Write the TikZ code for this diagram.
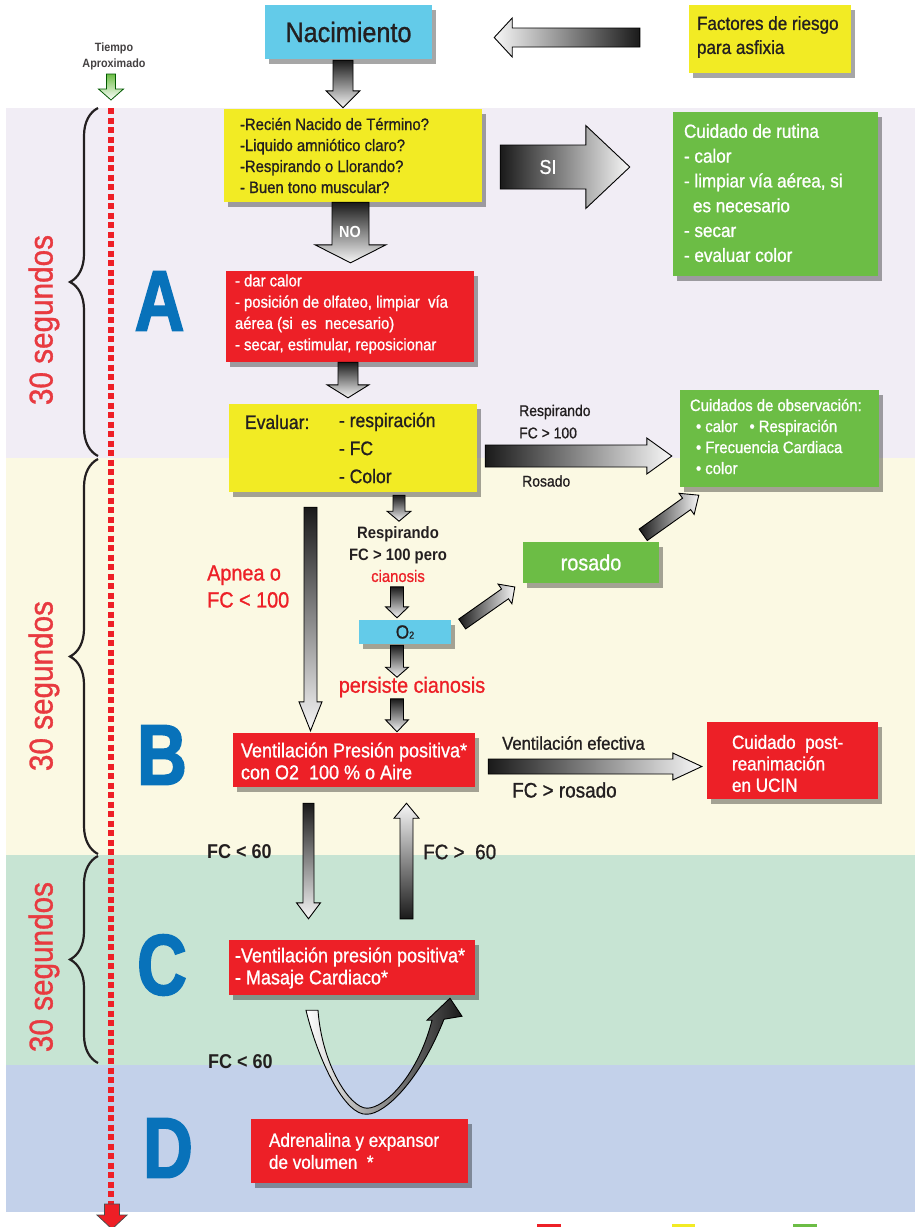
\documentclass[tikz,border=0pt]{standalone}
\usepackage{fontspec}
\setmainfont{Liberation Sans}[FakeStretch=0.9,UprightFeatures={FakeBold=1}]
\newfontfamily\heavyfont{Liberation Sans}[FakeStretch=0.8,BoldFeatures={FakeBold=2}]
\usetikzlibrary{calc,shadows,decorations.pathreplacing}
\definecolor{txt}{HTML}{231F20}
\definecolor{ylw}{HTML}{F2EB24}
\definecolor{rd}{HTML}{ED2027}
\definecolor{grn}{HTML}{6CBD45}
\definecolor{cyn}{HTML}{63CBE9}
\definecolor{blu}{HTML}{0872BA}
\definecolor{segred}{HTML}{E83A40}
\definecolor{bandA}{HTML}{F1EDF5}
\definecolor{bandB}{HTML}{FBF9E3}
\definecolor{bandC}{HTML}{C7E4D3}
\definecolor{bandD}{HTML}{C3D1EA}
\definecolor{dotred}{HTML}{EE1F26}
\definecolor{arrdk}{HTML}{1A1A1A}
\definecolor{arrlt}{HTML}{F7F7F7}
\newcommand{\myfs}[2]{\fontsize{#1}{#2}\selectfont}
\newcommand{\blkarrow}[6]{%
  \coordinate (bah) at ($(#3)!#6!(#2)$);
  \path[#1] ($(#2)!#4!90:(#3)$) -- ($(bah)!#4!90:(#3)$) -- ($(bah)!#5!90:(#3)$) -- (#3)
    -- ($(bah)!#5!-90:(#3)$) -- ($(bah)!#4!-90:(#3)$) -- ($(#2)!#4!-90:(#3)$) -- cycle;}
\tikzset{
  box/.style={rectangle, inner sep=0pt, drop shadow={shadow xshift=4pt,shadow yshift=-5pt,opacity=0.35,fill=black}},
  lbl/.style={inner sep=0pt, text=txt},
  wlbl/.style={inner sep=0pt, text=white},
  arrline/.style={draw=black, line width=0.9pt, line join=miter},
  arrdown/.style={arrline, top color=arrdk, bottom color=arrlt},
  arrup/.style={arrline, top color=arrlt, bottom color=arrdk},
  arrright/.style={arrline, left color=arrdk, right color=arrlt},
  arrleft/.style={arrline, left color=arrlt, right color=arrdk},
  bracestyle/.style={txt, line width=2.2pt, decorate, decoration={brace, amplitude=28pt, aspect=0.5}},
}
\begin{document}
\begin{tikzpicture}[x=1pt,y=-1pt]
\useasboundingbox (0,0) rectangle (915,1227);
\fill[white] (0,0) rectangle (915,1227);
% bands
\fill[bandA] (6,108) rectangle (915,458);
\fill[bandB] (6,458) rectangle (915,855);
\fill[bandC] (6,855) rectangle (915,1065);
\fill[bandD] (6,1065) rectangle (915,1212);
% legend squares (cut off)
\fill[rd] (537,1224) rectangle (561,1232);
\fill[ylw] (672,1224) rectangle (695,1232);
\fill[grn] (793,1224) rectangle (817,1232);

% time line
\node[lbl, align=center, text=txt!85, font=\bfseries\myfs{12}{16}] (tiempo) at (114,56) {Tiempo\\Aproximado};
\coordinate (ga0) at (111,74);
\coordinate (ga1) at (111,100);
\blkarrow{draw=green!35!black, line width=0.8pt, top color=grn, bottom color=white}{ga0}{ga1}{4.5pt}{12.5pt}{11pt}
\coordinate (tl0) at (111,108);
\coordinate (tl1) at (111,1204);
\draw[dotred, line width=5.5pt, dash pattern=on 6pt off 3.5pt] (tl0) -- (tl1);
\coordinate (rb0) at (112,1204);
\coordinate (rb1) at (112,1229);
\blkarrow{draw=black!70, line width=0.8pt, fill=dotred}{rb0}{rb1}{7.5pt}{15pt}{14pt}

% braces
\coordinate (brA0) at (98,456); \coordinate (brA1) at (98,108);
\coordinate (brB0) at (98,854); \coordinate (brB1) at (98,459);
\coordinate (brC0) at (98,1063); \coordinate (brC1) at (98,856);
\draw[bracestyle] (brA0) -- (brA1);
\draw[bracestyle] (brB0) -- (brB1);
\draw[bracestyle] (brC0) -- (brC1);
\node[lbl, text=segred, rotate=90, font=\myfs{33}{33}] (segA) at (44,320) {30 segundos};
\node[lbl, text=segred, rotate=90, font=\myfs{33}{33}] (segB) at (44,686) {30 segundos};
\node[lbl, text=segred, rotate=90, font=\myfs{33}{33}] (segC) at (44,967) {30 segundos};

% big letters
\node[lbl, text=blu, font=\heavyfont\bfseries\myfs{86}{86}] (lA) at (159.5,301) {A};
\node[lbl, text=blu, font=\heavyfont\bfseries\myfs{86}{86}] (lB) at (162,755) {B};
\node[lbl, text=blu, font=\heavyfont\bfseries\myfs{86}{86}] (lC) at (162,965) {C};
\node[lbl, text=blu, font=\heavyfont\bfseries\myfs{86}{86}] (lD) at (168,1148) {D};

% boxes
\node[box, fill=cyn, minimum width=167pt, minimum height=54pt, text=txt, font=\myfs{28}{30}] (nac) at (348.5,32) {Nacimiento};
\node[box, fill=ylw, minimum width=162pt, minimum height=68pt] (fac) at (770,39) {};
\node[lbl, anchor=west, align=left, font=\myfs{19}{24}] (facT) at ($(fac.west)+(8,-2)$) {Factores de riesgo\\para asfixia};
\node[box, fill=ylw, minimum width=258pt, minimum height=93pt] (q) at (353,155.5) {};
\node[lbl, anchor=west, align=left, font=\myfs{16.5}{21}] (qT) at ($(q.west)+(16,0)$) {-Recién Nacido de Término?\\-Liquido amniótico claro?\\-Respirando o Llorando?\\- Buen tono muscular?};
\node[box, fill=grn, minimum width=205pt, minimum height=164pt] (rut) at (775.5,194) {};
\node[wlbl, anchor=west, align=left, font=\myfs{19}{24.8}] (rutT) at ($(rut.west)+(11,-1)$) {Cuidado de rutina\\- calor\\- limpiar vía aérea, si\\\hspace*{9pt}es necesario\\- secar\\- evaluar color};
\node[box, fill=rd, minimum width=248pt, minimum height=91pt] (ra) at (350,316.5) {};
\node[wlbl, anchor=west, align=left, font=\myfs{16.5}{21.3}] (raT) at ($(ra.west)+(9,-2.5)$) {- dar calor\\- posición de olfateo, limpiar\ \ vía\\aérea (si\ \ es\ \ necesario)\\- secar, estimular, reposicionar};
\node[box, fill=ylw, minimum width=248pt, minimum height=88pt] (ev) at (353,448) {};
\node[lbl, anchor=west, font=\myfs{19.5}{28}] (evL) at ($(ev.west)+(16,-26)$) {Evaluar:};
\node[lbl, anchor=west, align=left, font=\myfs{19.5}{28}] (evR) at ($(ev.west)+(110,0)$) {- respiración\\- FC\\- Color};
\node[box, fill=grn, minimum width=199pt, minimum height=97pt] (obs) at (779.5,438.5) {};
\node[wlbl, anchor=west, align=left, font=\myfs{16.5}{21}] (obsT) at ($(obs.west)+(10,-2)$) {Cuidados de observación:\\\hspace*{6pt}• calor\hspace{12pt}• Respiración\\\hspace*{6pt}• Frecuencia Cardiaca\\\hspace*{6pt}• color};
\node[box, fill=grn, minimum width=136pt, minimum height=41pt, text=white, font=\myfs{22}{22}] (ros) at (591,562.5) {rosado};
\node[box, fill=cyn, minimum width=92pt, minimum height=24pt, text=txt, font=\myfs{19}{19}] (o2) at (405,632) {O{\myfs{10}{10}2}};
\node[box, fill=rd, minimum width=242pt, minimum height=54pt] (vent) at (354,760) {};
\node[wlbl, anchor=west, align=left, font=\myfs{20}{22}] (ventT) at ($(vent.west)+(8,1)$) {Ventilación Presión positiva*\\con O2\ \ 100 \% o Aire};
\node[box, fill=rd, minimum width=171pt, minimum height=77pt] (post) at (792.5,760.5) {};
\node[wlbl, anchor=west, align=left, font=\myfs{19}{21.5}] (postT) at ($(post.west)+(25,3)$) {Cuidado\ \ post-\\reanimación\\en UCIN};
\node[box, fill=rd, minimum width=246pt, minimum height=55pt] (cr) at (352,967.5) {};
\node[wlbl, anchor=west, align=left, font=\myfs{20}{22}] (crT) at ($(cr.west)+(6,0.5)$) {-Ventilación presión positiva*\\- Masaje Cardiaco*};
\node[box, fill=rd, minimum width=217pt, minimum height=64pt] (adr) at (359.5,1151) {};
\node[wlbl, anchor=west, align=left, font=\myfs{19}{22}] (adrT) at ($(adr.west)+(18,0)$) {Adrenalina y expansor\\de volumen\ \ *};

% block arrows
\coordinate (a1s) at ($(nac.south)+(-5.5,1)$); \coordinate (a1e) at ($(q.north)+(-10,-1)$);
\blkarrow{arrdown}{a1s}{a1e}{10pt}{17pt}{17pt}
\coordinate (a2s) at ($(fac.west)+(-49,-1.5)$); \coordinate (a2e) at ($(nac.east)+(62,5.5)$);
\blkarrow{arrleft}{a2s}{a2e}{9.5pt}{19.5pt}{18pt}
\coordinate (a3s) at ($(q.south)+(-2.5,0)$); \coordinate (a3e) at ($(ra.north)+(0.5,-8)$);
\blkarrow{arrdown}{a3s}{a3e}{18.5pt}{35.5pt}{18pt}
\coordinate (a4s) at ($(q.east)+(18,11.5)$); \coordinate (a4e) at ($(rut.west)+(-43,-27)$);
\blkarrow{arrright}{a4s}{a4e}{22pt}{41.5pt}{44pt}
\coordinate (a5s) at ($(ra.south)+(-2,0)$); \coordinate (a5e) at ($(ev.north)+(-5,-6)$);
\blkarrow{arrdown}{a5s}{a5e}{10pt}{21pt}{13pt}
\coordinate (a6s) at ($(ev.east)+(8,8)$); \coordinate (a6e) at ($(obs.west)+(-8,17.5)$);
\blkarrow{arrright}{a6s}{a6e}{11pt}{18pt}{25pt}
\coordinate (a7s) at ($(ev.south)+(46,3)$); \coordinate (a7e) at ($(ev.south)+(46,29)$);
\blkarrow{arrdown}{a7s}{a7e}{6pt}{12pt}{10pt}
\coordinate (a8s) at ($(ev.south)+(-42.5,15)$); \coordinate (a8e) at ($(vent.north)+(-43.5,-2)$);
\blkarrow{arrdown}{a8s}{a8e}{6.5pt}{11.5pt}{29pt}
\coordinate (a9s) at ($(o2.north)+(-8,-33)$); \coordinate (a9e) at ($(o2.north)+(-8,-2)$);
\blkarrow{arrdown}{a9s}{a9e}{6.5pt}{11.5pt}{11pt}
\coordinate (a10s) at ($(o2.south)+(-8,1)$); \coordinate (a10e) at ($(o2.south)+(-8,33)$);
\blkarrow{arrdown}{a10s}{a10e}{6.5pt}{11.5pt}{10pt}
\coordinate (a11s) at ($(vent.north)+(43,-34)$); \coordinate (a11e) at ($(vent.north)+(43,-1)$);
\blkarrow{arrdown}{a11s}{a11e}{6.5pt}{11.5pt}{12pt}
\coordinate (a12s) at ($(o2.east)+(11,-8)$); \coordinate (a12e) at ($(ros.west)+(-8,24.5)$);
\blkarrow{arrright}{a12s}{a12e}{6pt}{12pt}{12pt}
\coordinate (a13s) at ($(ros.north east)+(-16,-7)$); \coordinate (a13e) at ($(obs.south west)+(19,8)$);
\blkarrow{arrright}{a13s}{a13e}{7pt}{13pt}{15pt}
\coordinate (a14s) at ($(vent.east)+(13,6.5)$); \coordinate (a14e) at ($(post.west)+(-5,6)$);
\blkarrow{arrright}{a14s}{a14e}{7.5pt}{13.5pt}{29pt}
\coordinate (a15s) at ($(vent.south)+(-45.5,16)$); \coordinate (a15e) at ($(cr.north)+(-43.5,-21)$);
\blkarrow{arrdown}{a15s}{a15e}{5.5pt}{12pt}{16pt}
\coordinate (a16s) at ($(cr.north)+(54.5,-21)$); \coordinate (a16e) at ($(vent.south)+(52.5,16)$);
\blkarrow{arrup}{a16s}{a16e}{6.5pt}{12.5pt}{15pt}
% curved ribbon C -> D -> C
\begin{scope}[shift={(cr.south)}]
\path[arrline, left color=white, right color=arrdk]
  (-46,15) .. controls (-34,65) and (-7,121) .. (15,119)
  .. controls (33,119) and (68,85) .. (92,24)
  -- (110,21) -- (98,3) -- (75,25) -- (80,25)
  .. controls (66,80) and (33,113) .. (15,113)
  .. controls (-2,113) and (-30,70) .. (-34,15) -- cycle;
\end{scope}

% labels
\node[wlbl, font=\myfs{20}{20}] (siT) at (548,167) {SI};
\node[wlbl, font=\bfseries\myfs{16}{16}] (noT) at (350,232) {NO};
\node[lbl, anchor=west, font=\myfs{15.5}{15.5}] (respT) at (519,412) {Respirando};
\node[lbl, anchor=west, font=\myfs{15.5}{15.5}] (fc100T) at (519,433) {FC > 100};
\node[lbl, anchor=west, font=\myfs{15.5}{15.5}] (rosT) at (522,481) {Rosado};
\node[lbl, anchor=west, align=left, text=rd, font=\myfs{22}{27}] (apT) at (207,586.5) {Apnea o\\FC < 100};
\node[lbl, align=center, font=\myfs{16.5}{21.5}] (rpT) at (398,554.5) {\textbf{Respirando}\\\textbf{FC > 100 pero}\\\textcolor{rd}{cianosis}};
\node[lbl, text=rd, font=\myfs{22}{22}] (perT) at (412,687) {persiste cianosis};
\node[lbl, anchor=west, font=\myfs{18.5}{18.5}] (veT) at (502,743) {Ventilación efectiva};
\node[lbl, anchor=west, font=\myfs{21}{21}] (fcrT) at (512,790) {FC > rosado};
\node[lbl, anchor=west, font=\bfseries\myfs{20}{20}] (fc60aT) at (207,852) {FC < 60};
\node[lbl, anchor=west, font=\myfs{21}{21}] (fc60bT) at (423,852) {FC >\ \ 60};
\node[lbl, anchor=west, font=\bfseries\myfs{20}{20}] (fc60cT) at (208,1062) {FC < 60};
\end{tikzpicture}
\end{document}
